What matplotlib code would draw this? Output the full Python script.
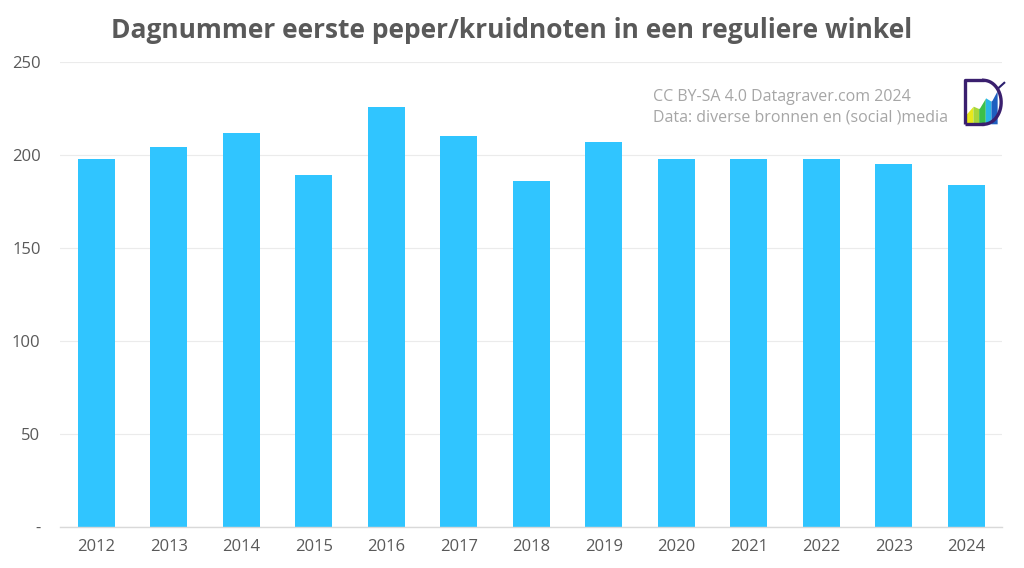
import numpy as np
import matplotlib
matplotlib.use('Agg')
import matplotlib.pyplot as plt
from matplotlib.patches import Polygon

plt.rcParams['font.family'] = ['Open Sans', 'DejaVu Sans']

# data
jaren = ['2012', '2013', '2014', '2015', '2016', '2017', '2018',
         '2019', '2020', '2021', '2022', '2023', '2024']
dagnummer = [198, 204, 212, 189, 226, 210, 186, 207, 198, 198, 198, 195, 184]
y_ticks = [0, 50, 100, 150, 200, 250]
y_labels = ['-', '50', '100', '150', '200', '250']

tekst_kleur = '#595959'
balk_kleur = '#30C5FF'

fig = plt.figure(figsize=(10.24, 5.68), dpi=100, facecolor='w')
ax = fig.add_axes([0.0586, 0.0722, 0.9204, 0.8188])

x = np.arange(len(jaren))
ax.bar(x, dagnummer, width=0.51, color=balk_kleur, zorder=3)

ax.set_xlim(-0.5, len(jaren) - 0.5)
ax.set_ylim(0, 250)
ax.set_xticks(x)
ax.set_xticklabels(jaren)
ax.set_yticks(y_ticks)
ax.set_yticklabels(y_labels)
ax.tick_params(axis='both', length=0, labelsize=12, colors=tekst_kleur)
ax.tick_params(axis='x', pad=9)
ax.tick_params(axis='y', pad=14)

ax.grid(axis='y', color='#EBEBEB', linewidth=0.8, zorder=0)
for s in ['top', 'right', 'left']:
    ax.spines[s].set_visible(False)
ax.spines['bottom'].set_color('#D9D9D9')
ax.spines['bottom'].set_linewidth(1.0)
ax.spines['bottom'].set_zorder(4)

fig.text(0.5, 0.947, 'Dagnummer eerste peper/kruidnoten in een reguliere winkel',
         ha='center', va='center', fontsize=19, fontweight='bold', color=tekst_kleur)

fig.text(0.638, 0.830, 'CC BY-SA 4.0 Datagraver.com 2024', ha='left', va='center',
         fontsize=11.5, color='#A6A6A6')
fig.text(0.638, 0.793, 'Data: diverse bronnen en (social )media', ha='left', va='center',
         fontsize=11.5, color='#A6A6A6')

# logo
lax = fig.add_axes([0.939, 0.775, 0.043, 0.088])
lax.set_xlim(0, 1)
lax.set_ylim(0, 1)
lax.axis('off')
zig_x = [0.12, 0.27, 0.40, 0.55, 0.68, 0.82]
zig_y = [0.30, 0.45, 0.40, 0.62, 0.55, 0.78]
kleuren = ['#E8E81A', '#A6D63C', '#3CC04A', '#29B6E8', '#1E5FC0']
for i, k in enumerate(kleuren):
    x0, x1 = zig_x[i], zig_x[i + 1]
    y0, y1 = zig_y[i], zig_y[i + 1]
    lax.add_patch(Polygon([[x0, 0.07], [x0, y0], [x1, y1], [x1, 0.07]],
                          closed=True, color=k, linewidth=0))
lax.plot(zig_x, zig_y, color='white', linewidth=1.6)
lax.plot([0.82, 0.97], [0.78, 0.9], color='#2B1F6E', linewidth=1.5)
lax.plot([0.08, 0.08, 0.5], [0.07, 0.95, 0.95], color='#3A1F6E', linewidth=2.4,
         solid_capstyle='butt')
t = np.linspace(np.pi / 2, -np.pi / 2, 30)
lax.plot(0.5 + 0.4 * np.cos(t), 0.51 + 0.44 * np.sin(t), color='#3A1F6E', linewidth=2.4)
lax.plot([0.08, 0.5], [0.07, 0.07], color='#3A1F6E', linewidth=2.4,
         solid_capstyle='butt')

plt.savefig('out.png', dpi=100, facecolor='w')
